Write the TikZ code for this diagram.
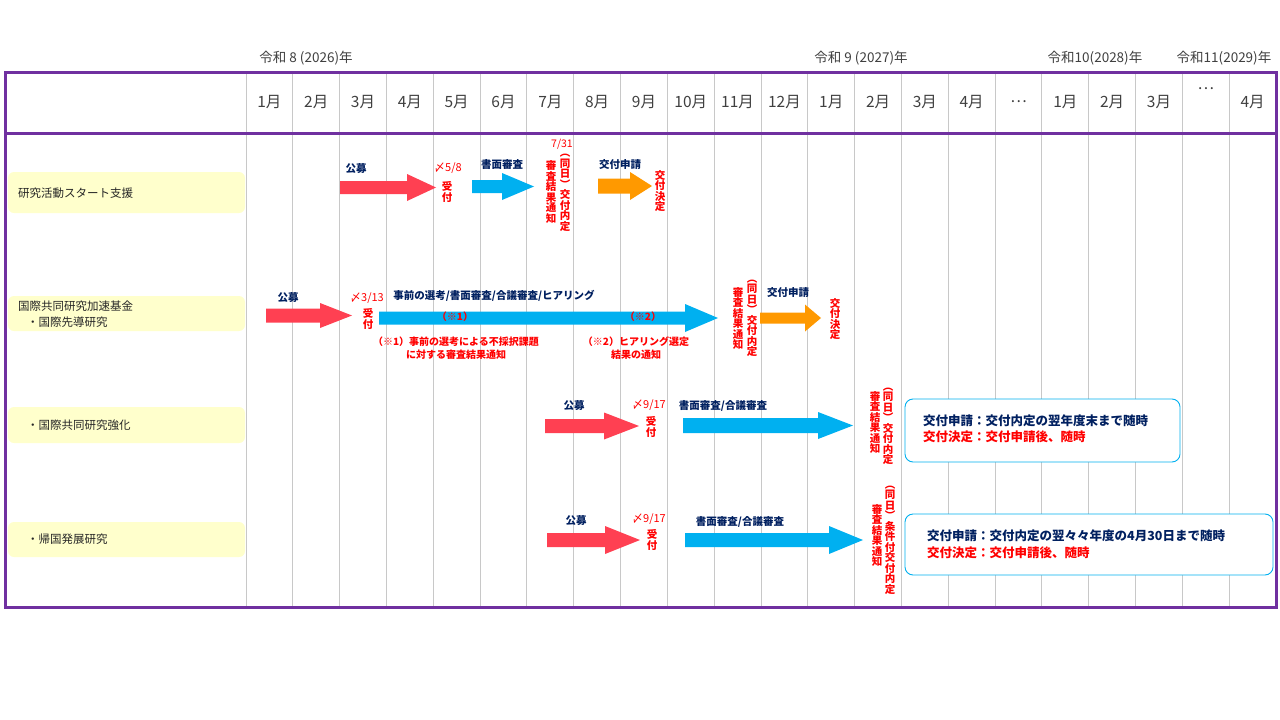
\documentclass[tikz,border=0pt]{standalone}
\usepackage{fontspec}
\setmainfont{Noto Sans CJK JP}
\definecolor{navy}{HTML}{002060}
\definecolor{myred}{HTML}{FF0000}
\definecolor{arrred}{HTML}{FF4052}
\definecolor{arrblue}{HTML}{00B0F0}
\definecolor{arrorange}{HTML}{FF9900}
\definecolor{framec}{HTML}{7030A0}
\definecolor{gridc}{HTML}{C8C8C8}
\definecolor{labelbg}{HTML}{FFFFCC}
\definecolor{txt}{HTML}{262626}
\definecolor{hdr}{HTML}{404040}
% fat arrow: color, x0, xbase, xtip, ycenter, shaft half, head half
\newcommand{\fatarr}[7]{\fill[#1] (#2,#5-#6) -- (#3,#5-#6) -- (#3,#5-#7) -- (#4,#5) -- (#3,#5+#7) -- (#3,#5+#6) -- (#2,#5+#6) -- cycle;}
\begin{document}
\begin{tikzpicture}[x=1pt,y=-1pt,
  navlab/.style={text=navy, font=\fontsize{10.5}{12}\selectfont\bfseries, inner sep=0},
  rednote/.style={text=myred, font=\fontsize{11}{12}\selectfont, inner sep=0},
  rednoteb/.style={text=myred, font=\fontsize{10}{12.5}\selectfont\bfseries, inner sep=0, align=center},
  vert/.style={text=myred, font=\fontsize{10.5}{10.5}\selectfont\bfseries, align=center, inner sep=0},
  month/.style={text=hdr, font=\fontsize{15.5}{18}\selectfont, inner sep=0},
  year/.style={text=hdr, font=\fontsize{13.5}{15}\selectfont, inner sep=0},
  rowlab/.style={text=txt, font=\fontsize{11.5}{14}\selectfont, inner sep=0, anchor=west},
  boxnavy/.style={text=navy, font=\fontsize{12.5}{15}\selectfont\bfseries, inner sep=0, anchor=west},
  boxred/.style={text=myred, font=\fontsize{12.5}{15}\selectfont\bfseries, inner sep=0, anchor=west},
  infobox/.style={draw=arrblue, line width=0.9pt, fill=white, rounded corners=8pt}
]
\useasboundingbox (0,0) rectangle (1280,720);
\fill[white] (0,0) rectangle (1280,720);

% grid
\foreach \i in {0,...,21}
  \draw[gridc, line width=1pt] ({246+46.818*\i},72) -- ({246+46.818*\i},607);

% years
\node[year] (y26) at (306,58) {令和 8 (2026)年};
\node[year] (y27) at (861,58) {令和 9 (2027)年};
\node[year] (y28) at (1095,58) {令和10(2028)年};
\node[year] (y29) at (1224,58) {令和11(2029)年};

% months
\foreach \m [count=\i from 0] in {1月,2月,3月,4月,5月,6月,7月,8月,9月,10月,11月,12月,1月,2月,3月,4月,…,1月,2月,3月,{},4月}
  \node[month] (m\i) at ({246+46.818*(\i+0.5)},102) {\m};
\node[month] (mdots) at ({246+46.818*20.5},89) {…};

% frame
\draw[framec, line width=3pt] (5,72) rectangle (1276,607);
\draw[framec, line width=3pt] (5,133) -- (1276,133);

% row labels
\fill[labelbg, rounded corners=6pt] (8,172) rectangle (245,213);
\fill[labelbg, rounded corners=6pt] (8,296) rectangle (245,331);
\fill[labelbg, rounded corners=6pt] (8,407) rectangle (245,443);
\fill[labelbg, rounded corners=6pt] (8,522) rectangle (245,557);
\node[rowlab] (r1) at (18,193) {研究活動スタート支援};
\node[rowlab] (r2a) at (18,306) {国際共同研究加速基金};
\node[rowlab] (r2b) at (27,322) {・国際先導研究};
\node[rowlab] (r3) at (27,425) {・国際共同研究強化};
\node[rowlab] (r4) at (27,539) {・帰国発展研究};

% ---- row 1
\fatarr{arrred}{340}{407}{436}{187.5}{6.5}{13.5}
\fatarr{arrblue}{472}{502}{534}{186.5}{6.5}{13.5}
\fatarr{arrorange}{598}{630}{652}{186}{7.5}{14}
\node[navlab] (k1) at (356,169) {公募};
\node[navlab] (s1) at (502,165) {書面審査};
\node[navlab] (a1) at (620,165) {交付申請};
\node[rednote] (d1) at (448,168) {〆5/8};
\node[vert] (u1) at (447,192) {受\\付};
\node[rednote, font=\fontsize{10.5}{12}\selectfont] (t1) at (562,144) {7/31};
\node[vert] (n1l) at (551,192) {審\\査\\結\\果\\通\\知};
\node[vert] (n1r) at (565,193) {︵\\同\\日\\︶\\交\\付\\内\\定};
\node[vert] (f1) at (660,191) {交\\付\\決\\定};

% ---- row 2
\fatarr{arrred}{266}{320}{352}{315.5}{7}{12.5}
\fatarr{arrblue}{379}{685}{718}{318}{6.5}{14}
\fatarr{arrorange}{760}{805}{821}{318}{5.5}{13.5}
\node[navlab] (k2) at (288,298) {公募};
\node[navlab] (s2) at (494,296) {事前の選考/書面審査/合議審査/ヒアリング};
\node[navlab] (a2) at (788,293) {交付申請};
\node[rednote] (d2) at (367,298) {〆3/13};
\node[vert] (u2) at (368,319) {受\\付};
\node[rednoteb] (x1) at (455,317) {（※1）};
\node[rednoteb] (x2) at (643,317) {（※2）};
\node[rednoteb] (x1n) at (456,348) {（※1）事前の選考による不採択課題\\に対する審査結果通知};
\node[rednoteb] (x2n) at (636,348) {（※2）ヒアリング選定\\結果の通知};
\node[vert] (n2l) at (738,318.5) {審\\査\\結\\果\\通\\知};
\node[vert] (n2r) at (752,318.5) {︵\\同\\日\\︶\\交\\付\\内\\定};
\node[vert] (f2) at (835,319) {交\\付\\決\\定};

% ---- row 3
\fatarr{arrred}{545}{604}{639}{426}{7}{13.5}
\fatarr{arrblue}{683}{818}{853}{425.5}{7.5}{13.5}
\node[navlab] (k3) at (574,406) {公募};
\node[navlab] (s3) at (723,406) {書面審査/合議審査};
\node[rednote] (d3) at (649,405) {〆9/17};
\node[vert] (u3) at (651,427) {受\\付};
\node[vert] (n3l) at (875,422.5) {審\\査\\結\\果\\通\\知};
\node[vert] (n3r) at (888,426.5) {︵\\同\\日\\︶\\交\\付\\内\\定};
\draw[infobox] (905,399) rectangle (1180,462);
\node[boxnavy] (b3a) at (923,421) {交付申請：交付内定の翌年度末まで随時};
\node[boxred] (b3b) at (923,437) {交付決定：交付申請後、随時};

% ---- row 4
\fatarr{arrred}{547}{605}{640}{540}{7}{14}
\fatarr{arrblue}{685}{829}{863}{540}{7}{14}
\node[navlab] (k4) at (576,521) {公募};
\node[navlab] (s4) at (740,522) {書面審査/合議審査};
\node[rednote] (d4) at (649,519) {〆9/17};
\node[vert] (u4) at (652,540) {受\\付};
\node[vert] (n4l) at (877,535.5) {審\\査\\結\\果\\通\\知};
\node[vert] (n4r) at (890,540) {︵\\同\\日\\︶\\条\\件\\付\\交\\付\\内\\定};
\draw[infobox] (905,514) rectangle (1273,575);
\node[boxnavy] (b4a) at (927,536) {交付申請：交付内定の翌々々年度の4月30日まで随時};
\node[boxred] (b4b) at (927,553) {交付決定：交付申請後、随時};
\end{tikzpicture}
\end{document}
